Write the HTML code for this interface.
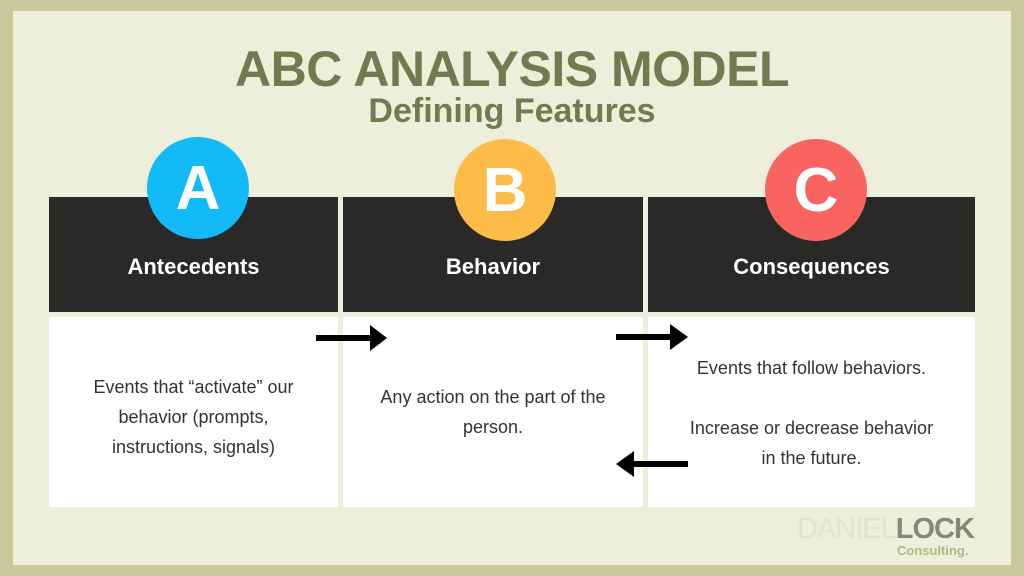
<!DOCTYPE html>
<html><head><style>
body{margin:0;width:1024px;height:576px;overflow:hidden;background:#c6c99c;font-family:"Liberation Sans",sans-serif;}
.in{position:absolute;left:13px;top:11px;width:998px;height:554px;background:#eeefdb;}
.abs{position:absolute;}
.t1{left:0;width:1024px;top:40px;text-align:center;font-weight:bold;font-size:50px;color:#737a50;letter-spacing:-0.5px;}
.t2{left:0;width:1024px;top:92px;text-align:center;font-weight:bold;font-size:34px;color:#737a50;}
.hd{background:#2a2928;top:197px;height:115px;color:#fff;font-weight:bold;font-size:22px;text-align:center;line-height:140px;}
.bd{background:#fff;top:317px;height:190px;color:#333;font-size:18px;text-align:center;display:flex;align-items:center;justify-content:center;line-height:30px;}
.c{width:102px;height:102px;border-radius:50%;color:#fff;font-weight:bold;font-size:62px;text-align:center;line-height:104px;}
</style></head><body>
<div class="in"></div>
<div class="abs t1">ABC ANALYSIS MODEL</div>
<div class="abs t2">Defining Features</div>
<div class="abs hd" style="left:49px;width:289px">Antecedents</div>
<div class="abs hd" style="left:343px;width:300px">Behavior</div>
<div class="abs hd" style="left:648px;width:327px">Consequences</div>
<div class="abs bd" style="left:49px;width:289px"><div style="margin-top:10px">Events that “activate” our<br>behavior (prompts,<br>instructions, signals)</div></div>
<div class="abs bd" style="left:343px;width:300px"><div>Any action on the part of the<br>person.</div></div>
<div class="abs bd" style="left:648px;width:327px;align-items:flex-start"><div style="margin-top:36px">Events that follow behaviors.<br><br>Increase or decrease behavior<br>in the future.</div></div>
<div class="abs c" style="left:147px;top:137px;background:#12bbf7">A</div>
<div class="abs c" style="left:454px;top:139px;background:#fdbc47">B</div>
<div class="abs c" style="left:765px;top:139px;background:#f96460">C</div>
<svg class="abs" style="left:0;top:0" width="1024" height="576">
<g fill="#000">
<rect x="316" y="335" width="55" height="6"/><polygon points="370,325 387,338 370,351"/>
<rect x="616" y="334" width="55" height="6"/><polygon points="670,324 688,337 670,350"/>
<rect x="633" y="461" width="55" height="6"/><polygon points="634,451 616,464 634,477"/>
</g></svg>
<div class="abs" style="left:797px;top:513px;font-size:29px;color:#e3e4d0;letter-spacing:-1px">DANIEL<b style="color:#86877a">LOCK</b></div>
<div class="abs" style="left:897px;top:543px;font-size:13px;color:#b4b78e;font-weight:bold">Consulting.</div>
</body></html>
